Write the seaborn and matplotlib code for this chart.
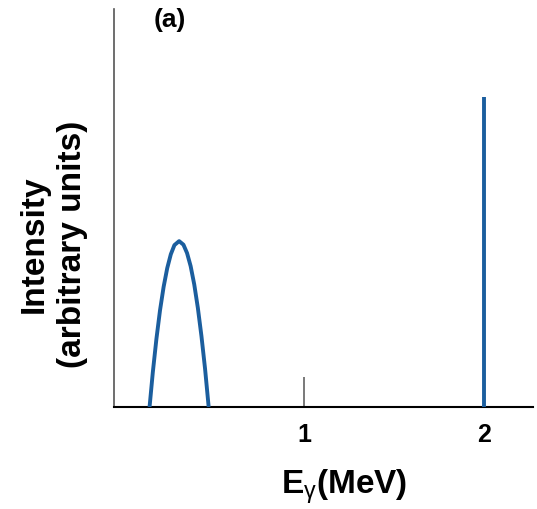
import matplotlib
matplotlib.use("Agg")
import matplotlib.pyplot as plt
import seaborn as sns
import pandas as pd

# Broad low-energy gamma peak (energy in MeV, intensity in arbitrary units)
broad_energy = [0.142, 0.16, 0.18, 0.20, 0.22, 0.24, 0.26, 0.28, 0.306,
                0.33, 0.35, 0.37, 0.39, 0.41, 0.43, 0.45, 0.470]
broad_intensity = [0.0, 0.087, 0.171, 0.243, 0.302, 0.349, 0.384, 0.407, 0.417,
                   0.408, 0.387, 0.354, 0.308, 0.249, 0.178, 0.096, 0.0]

# Sharp gamma line
line_energy = [2.0]
line_intensity = [0.78]

tick_values = [1, 2]
tick_labels = ["1", "2"]

sns.set_theme(style="white")
plt.rcParams["font.family"] = ["Liberation Sans", "DejaVu Sans"]
plt.rcParams["text.color"] = "black"
plt.rcParams["axes.labelcolor"] = "black"
plt.rcParams["xtick.color"] = "black"
plt.rcParams["mathtext.fontset"] = "custom"
plt.rcParams["mathtext.rm"] = "Liberation Sans:bold"
plt.rcParams["mathtext.it"] = "Liberation Sans"
plt.rcParams["mathtext.bf"] = "Liberation Sans:bold"

blue = "#1b5e9e"

fig = plt.figure(figsize=(5.37, 5.10), dpi=100)
ax = fig.add_axes([0.2114, 0.2, 0.7812, 0.78])

df = pd.DataFrame({"energy": broad_energy, "intensity": broad_intensity})
sns.lineplot(data=df, x="energy", y="intensity", ax=ax, color=blue,
             linewidth=2.8, estimator=None, sort=False, zorder=3)
ax.lines[-1].set_solid_capstyle("butt")
ax.lines[-1].set_solid_joinstyle("round")

ax.vlines(line_energy, 0, line_intensity, color=blue, linewidth=2.8, zorder=3)

ax.set_xlim(-0.058, 2.27)
ax.set_ylim(0, 1)

ax.set_xticks(tick_values)
ax.set_xticklabels(tick_labels, fontsize=18, fontweight="bold", color="black")
ax.set_yticks([])
ax.tick_params(axis="x", direction="in", length=21.6, width=1.1,
               color="#555555", pad=11, bottom=True)

for side in ("top", "right"):
    ax.spines[side].set_visible(False)
ax.spines["left"].set_color("#555555")
ax.spines["left"].set_linewidth(1.2)
ax.spines["bottom"].set_color("black")
ax.spines["bottom"].set_linewidth(1.5)

ax.set_xlabel(r"E$_{\mathit{\gamma}}$(MeV)", fontsize=24, fontweight="bold")
ax.xaxis.set_label_coords(0.549, -0.15)
ax.set_ylabel("Intensity\n(arbitrary units)", fontsize=24, fontweight="bold",
              linespacing=1.32)
ax.yaxis.set_label_coords(-0.061, 0.412)

ax.text(0.133, 0.975, "(a)", transform=ax.transAxes, fontsize=19,
        fontweight="bold", ha="center", va="center")

fig.savefig("out.png", dpi=100)
